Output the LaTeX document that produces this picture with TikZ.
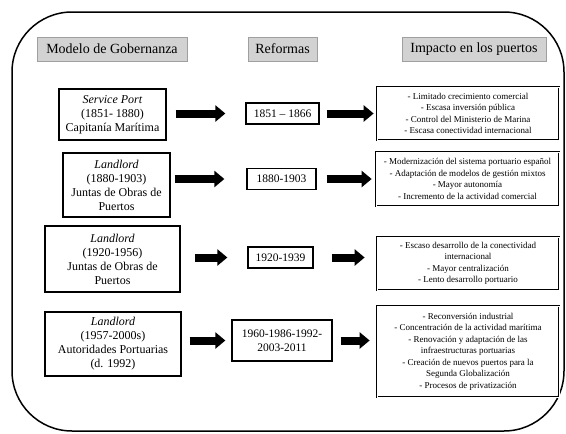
\documentclass[tikz,border=0pt]{standalone}
\usepackage{fontspec}
\setmainfont{Liberation Serif}
\usetikzlibrary{arrows.meta}

\tikzset{
  header/.style={rectangle, draw=gray!75, line width=1pt, fill=gray!35, inner sep=0pt, font=\rmfamily\fontsize{14}{16}\selectfont},
  modelbox/.style={rectangle, draw, line width=1.2pt, align=center, inner sep=0pt, font=\rmfamily\fontsize{12}{14}\selectfont},
  reformbox/.style={rectangle, draw, line width=1.3pt, align=center, inner sep=0pt, font=\rmfamily\fontsize{11.5}{14}\selectfont},
  impactbox/.style={rectangle, draw, double, double distance=0.7pt, line width=0.7pt, align=center, inner sep=0pt, font=\rmfamily\fontsize{9}{11.5}\selectfont},
  bigarrow/.style={line width=8pt, -{Triangle[length=10pt, width=16pt]}}
}

\begin{document}
\begin{tikzpicture}[x=1pt, y=-1pt]
      \useasboundingbox (0,0) rectangle (566,434);

      % Frame
      \draw [line width=1.5pt, rounded corners=60pt] (12,12) rectangle (564,431);

      % Headers
      \node[header, minimum width=150pt, minimum height=24pt] (hmodel) at (112,49) {Modelo de Gobernanza};
      \node[header, minimum width=69pt, minimum height=24pt] (hreform) at (282.5,49) {Reformas};
      \node[header, minimum width=144pt, minimum height=24pt] (himpact) at (474,49) {Impacto en los puertos};

      % Governance models
      \node[modelbox, minimum width=107pt, minimum height=51pt] (m1) at (112.5,114.5) {\textit{Service Port}\\(1851- 1880)\\Capitanía Marítima};
      \node[modelbox, minimum width=107pt, minimum height=64pt] (m2) at (116.5,185) {\textit{Landlord}\\(1880-1903)\\Juntas de Obras de\\Puertos};
      \node[modelbox, minimum width=135pt, minimum height=66pt] (m3) at (112.5,259) {\textit{Landlord}\\(1920-1956)\\Juntas de Obras de\\Puertos};
      \node[modelbox, minimum width=136pt, minimum height=64pt] (m4) at (113,344) {\textit{Landlord}\\(1957-2000s)\\Autoridades Portuarias\\(d. 1992)};

      % Reforms
      \node[reformbox, minimum width=73pt, minimum height=21pt] (r1) at (282.5,113.5) {1851 -- 1866};
      \node[reformbox, minimum width=69pt, minimum height=21pt] (r2) at (281.5,179) {1880-1903};
      \node[reformbox, minimum width=65pt, minimum height=21pt] (r3) at (280.5,257.5) {1920-1939};
      \node[reformbox, minimum width=100pt, minimum height=41pt] (r4) at (282,340.5) {1960-1986-1992-\\2003-2011};

      % Impact
      \node[impactbox, minimum width=182pt, minimum height=53pt] (i1) at (468,113.5) {- Limitado crecimiento comercial\\- Escasa inversión pública\\- Control del Ministerio de Marina\\- Escasa conectividad internacional};
      \node[impactbox, minimum width=183pt, minimum height=54pt] (i2) at (467.5,179) {- Modernización del sistema portuario español\\- Adaptación de modelos de gestión mixtos\\- Mayor autonomía\\- Incremento de la actividad comercial};
      \node[impactbox, minimum width=182pt, minimum height=53pt] (i3) at (468,263.5) {- Escaso desarrollo de la conectividad\\internacional\\- Mayor centralización\\- Lento desarrollo portuario};
      \node[impactbox, minimum width=182pt, minimum height=91pt] (i4) at (468,351.5) {- Reconversión industrial\\- Concentración de la actividad marítima\\- Renovación y adaptación de las\\infraestructuras portuarias\\- Creación de nuevos puertos para la\\Segunda Globalización\\- Procesos de privatización};

      % Arrows
      \draw [bigarrow, shorten <=9pt, shorten >=20pt] (m1.east |- r1.west) -- (r1.west);
      \draw [bigarrow, shorten <=7pt, shorten >=3pt] (r1.east) -- (r1.east -| i1.west);
      \draw [bigarrow, shorten <=4pt, shorten >=22pt] (m2.east |- r2.west) -- (r2.west);
      \draw [bigarrow, shorten <=10pt, shorten >=4pt] (r2.east) -- (r2.east -| i2.west);
      \draw [bigarrow, shorten <=14pt, shorten >=20pt] (m3.east |- r3.west) -- (r3.west);
      \draw [bigarrow, shorten <=18pt, shorten >=12pt] (r3.east) -- (r3.east -| i3.west);
      \draw [bigarrow, shorten <=8pt, shorten >=6pt] (m4.east |- r4.west) -- (r4.west);
      \draw [bigarrow, shorten <=8pt, shorten >=7pt] (r4.east) -- (r4.east -| i4.west);

    \end{tikzpicture}
\end{document}
